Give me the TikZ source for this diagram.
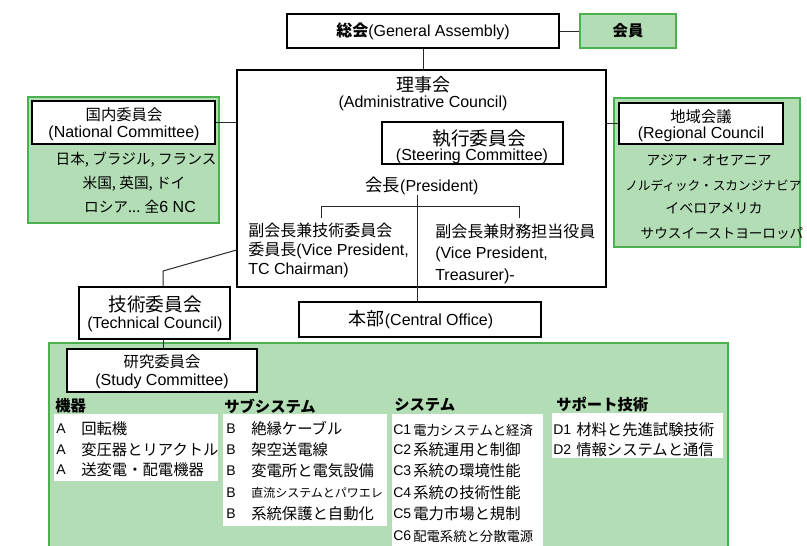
\documentclass[tikz,border=0pt]{standalone}
\usepackage{fontspec}
\setmainfont{Liberation Sans}
\newfontfamily\jp{Noto Sans CJK JP}
\usetikzlibrary{fit}
\definecolor{lgreen}{RGB}{179,222,181}
\definecolor{dgreen}{RGB}{76,176,80}
\definecolor{lineg}{RGB}{40,40,40}
\newcommand\myfs[1]{\fontsize{#1}{#1}\selectfont}
\begin{document}
\begin{tikzpicture}[x=0.75pt,y=-0.75pt,
  box/.style={draw=black,line width=0.8pt,fill=white,inner sep=0pt},
  gbox/.style={draw=dgreen,fill=lgreen,line width=1.8pt,inner sep=0pt},
  gfill/.style={fill=lgreen,inner sep=0pt},
  gline/.style={draw=dgreen,line width=1.8pt},
  wlist/.style={fill=white,inner sep=0pt},
  conn/.style={draw=lineg,line width=0.75pt},
  t12/.style={inner sep=0pt,font=\myfs{12}},
  jt/.style={inner sep=0pt,font=\jp\myfs{#1}},
  hdr/.style={inner sep=0pt,anchor=west,font=\jp\bfseries\myfs{11.5}},
  lab/.style={inner sep=0pt,anchor=west,font=\myfs{12}},
  slab/.style={inner sep=0pt,anchor=west,font=\myfs{10.5}},
  item/.style={inner sep=0pt,anchor=west,font=\jp\myfs{#1}}
]
\useasboundingbox (0,0) rectangle (807,546);
% green containers
\node[gbox, fit={(580,14)(676,48)}] (mem) {};
\node[gbox, fit={(28,97)(219,223)}] (ncg) {};
\node[gbox, fit={(614,98)(800,247)}] (rcg) {};
\node[gfill, fit={(49,343)(728,546)}] (sg) {};
\draw[gline] (sg.south west) |- (sg.north east) -- (sg.south east);
% boxes
\node[box, fit={(287,14)(559,48)}] (ga) {};
\node[box, fit={(237,70)(606,287)}] (adm) {};
\node[box, fit={(382,122)(563,164)}] (steer) {};
\node[box, fit={(32,101)(215,144)}] (nc) {};
\node[box, fit={(619,103)(783,144)}] (rc) {};
\node[box, fit={(79,287)(230,339)}] (tc) {};
\node[box, fit={(299,302)(541,337)}] (hq) {};
\node[box, fit={(67,349)(257,392)}] (sc) {};
% white lists
\node[wlist, fit={(54,414)(218,481)}] (la) {};
\node[wlist, fit={(223,414)(387,526)}] (lb) {};
\node[wlist, fit={(392,414)(543,546)}] (lc) {};
\node[wlist, fit={(552,413)(723,458)}] (ld) {};
% texts top
\node[t12] (gat) at (ga.center) {{\jp\bfseries 総会}(General Assembly)};
\node[jt=11.5, font=\jp\bfseries\myfs{11.5}] (memt) at (mem.center) {会員};
\node[jt=13.5] (admt1) at (423,85) {理事会};
\node[t12] (admt2) at (423,103) {(Administrative Council)};
\node[jt=14] (steert1) at (479,139) {執行委員会};
\node[t12] (steert2) at (472,156) {(Steering Committee)};
\node[t12] (pres) at (422,186) {{\jp\myfs{13}会長}(President)};
\node[lab] (vp1a) at (248,230) {\jp 副会長兼技術委員会};
\node[lab] (vp1b) at (248,250) {{\jp 委員長}(Vice President,};
\node[lab] (vp1c) at (248,270) {TC Chairman)};
\node[lab] (vp2a) at (435,231) {\jp 副会長兼財務担当役員};
\node[lab] (vp2b) at (435,254) {(Vice President,};
\node[lab] (vp2c) at (435,276) {Treasurer)-};
\node[t12] (hqt) at (421,320) {{\jp\myfs{13.5}本部}(Central Office)};
% national
\node[jt=11.5] (nct1) at (124,115) {国内委員会};
\node[t12] (nct2) at (124,133) {(National Committee)};
\node[jt=11] (ncl1) at (136,160) {日本, ブラジル, フランス};
\node[jt=11] (ncl2) at (134,184) {米国, 英国, ドイ};
\node[jt=11] (ncl3) at (140,207) {ロシア... 全{\rmfamily\myfs{12}6 NC}};
% regional
\node[jt=11.5] (rct1) at (701,117) {地域会議};
\node[t12] (rct2) at (701,134) {(Regional Council};
\node[jt=10.5] (rcl1) at (709,160) {アジア・オセアニア};
\node[jt=9.5, anchor=west] (rcl2) at (625,186) {ノルディック・スカンジナビア};
\node[jt=10.5] (rcl3) at (714,208) {イベロアメリカ};
\node[jt=10.2] (rcl4) at (722,233) {サウスイーストヨーロッパ};
% technical council
\node[jt=14] (tct1) at (155,304) {技術委員会};
\node[t12] (tct2) at (155,324) {(Technical Council)};
% study committee
\node[jt=11.5] (sct1) at (162,362) {研究委員会};
\node[t12] (sct2) at (162,381) {(Study Committee)};
\node[hdr] (ha) at (55,406) {機器};
\node[hdr] (hb) at (224,406) {サブシステム};
\node[hdr] (hc) at (394,405) {システム};
\node[hdr] (hd) at (556,405) {サポート技術};
% A
\foreach \i/\y/\t in {1/429/回転機,2/450/変圧器とリアクトル,3/470/送変電・配電機器}{
  \node[slab] (al\i) at (56,\y) {A};
  \node[item=11.5] (at\i) at (81,\y) {\t};
}
% B
\foreach \i/\y/\t/\s in {1/429/絶縁ケーブル/11.5,2/450/架空送電線/11.5,3/471/変電所と電気設備/11.5,4/493/直流システムとパワエレ/9,5/514/系統保護と自動化/11.5}{
  \node[slab] (bl\i) at (226,\y) {B};
  \node[item=\s] (bt\i) at (251,\y) {\t};
}
% C
\foreach \i/\y/\t/\s in {1/430/電力システムと経済/10,2/450/系統運用と制御/11.5,3/471/系統の環境性能/11.5,4/493/系統の技術性能/11.5,5/514/電力市場と規制/11.5,6/536/配電系統と分散電源/10}{
  \node[slab] (cl\i) at (393,\y) {C\i};
  \node[item=\s] (ct\i) at (413,\y) {\t};
}
% D
\foreach \i/\y/\t in {1/430/材料と先進試験技術,2/450/情報システムと通信}{
  \node[slab] (dl\i) at (553,\y) {D\i};
  \node[item=11.5] (dt\i) at (576,\y) {\t};
}
% connectors
\draw[conn] (ga.east) -- (mem.west);
\draw[conn] (ga.south) -- (ga.south |- adm.north);
\draw[conn] (nc.east) -- (nc.east -| adm.west);
\draw[conn] (rc.west -| adm.east) -- (rc.west);
\coordinate (vx) at (417,195);
\draw[conn] (pres.south -| vx) -- (vx |- hq.north);
\coordinate (b1) at (321,218);
\coordinate (b2) at (519,218);
\draw[conn] (b1) -- ++(0,-12) -| (b2);
\coordinate (tcb) at (163,271);
\draw[conn] (vp1b.west -| adm.west) -- (tcb) -- (tcb |- tc.north);
\draw[conn] (tcb |- tc.south) -- (tcb |- sc.north);
\end{tikzpicture}
\end{document}
